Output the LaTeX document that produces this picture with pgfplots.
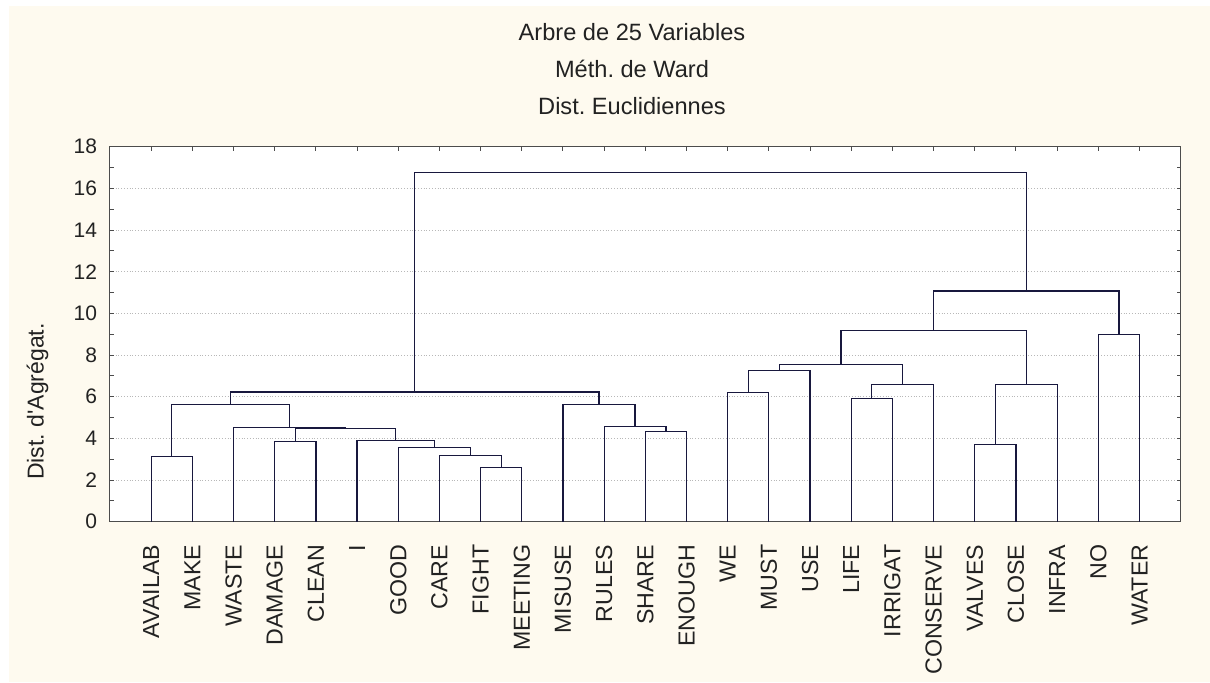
\documentclass[border=0pt]{standalone}
\usepackage{pgfplots}
\pgfplotsset{compat=1.18}
\usepackage{fontspec}
\setmainfont{Liberation Sans}
\frenchspacing
\definecolor{cream}{RGB}{254,250,239}
\definecolor{navy}{RGB}{24,24,62}
\definecolor{txt}{RGB}{34,34,34}
\begin{document}
\begin{tikzpicture}
\fill[white] (-55pt,-80.15pt) rectangle (550pt,260.85pt);
\fill[cream] (-50.5pt,-80.15pt) rectangle (550pt,257.85pt);
\begin{axis}[
  scale only axis, width=535.35pt, height=187.5pt,
  xmin=0, xmax=26, ymin=0, ymax=18,
  axis background/.style={fill=white},
  axis line style={black!70, line width=0.5pt},
  xtick={1,...,25},
  xticklabels={AVAILAB,MAKE,WASTE,DAMAGE,CLEAN,I,GOOD,CARE,FIGHT,MEETING,MISUSE,RULES,SHARE,ENOUGH,WE,MUST,USE,LIFE,IRRIGAT,CONSERVE,VALVES,CLOSE,INFRA,NO,WATER},
  xtick pos=both, xticklabel pos=lower,
  ytick={0,2,...,18}, minor y tick num=1,
  ytick pos=both, yticklabel pos=left,
  tick align=inside,
  major tick length=2pt, minor tick length=2pt,
  tick style={black!70, line width=0.5pt},
  ymajorgrids, major grid style={densely dotted, black!28, line width=0.5pt},
  xticklabel style={rotate=90, anchor=east, font=\fontsize{11.6}{13}\selectfont, text=txt},
  xticklabel shift=8pt,
  yticklabel style={font=\fontsize{10.5}{12}\selectfont, text=txt},
  yticklabel shift=3pt,
  /pgf/number format/assume math mode=true,
  link/.style={navy, line width=0.6pt, mark=none, solid},
]
% dendrogram links: (left child) -> merge height -> (right child)
\addplot[link] coordinates {(1,0) (1,3.13) (2,3.13) (2,0)};
\addplot[link] coordinates {(9,0) (9,2.62) (10,2.62) (10,0)};
\addplot[link] coordinates {(8,0) (8,3.18) (9.5,3.18) (9.5,2.62)};
\addplot[link] coordinates {(7,0) (7,3.58) (8.75,3.58) (8.75,3.18)};
\addplot[link] coordinates {(6,0) (6,3.88) (7.875,3.88) (7.875,3.58)};
\addplot[link] coordinates {(4,0) (4,3.85) (5,3.85) (5,0)};
\addplot[link] coordinates {(4.5,3.85) (4.5,4.46) (6.9375,4.46) (6.9375,3.88)};
\addplot[link] coordinates {(3,0) (3,4.54) (5.71875,4.54) (5.71875,4.46)};
\addplot[link] coordinates {(1.5,3.13) (1.5,5.63) (4.359375,5.63) (4.359375,4.54)};
\addplot[link] coordinates {(13,0) (13,4.32) (14,4.32) (14,0)};
\addplot[link] coordinates {(12,0) (12,4.56) (13.5,4.56) (13.5,4.32)};
\addplot[link] coordinates {(11,0) (11,5.63) (12.75,5.63) (12.75,4.56)};
\addplot[link] coordinates {(2.9296875,5.63) (2.9296875,6.23) (11.875,6.23) (11.875,5.63)};
\addplot[link] coordinates {(15,0) (15,6.20) (16,6.20) (16,0)};
\addplot[link] coordinates {(15.5,6.20) (15.5,7.27) (17,7.27) (17,0)};
\addplot[link] coordinates {(18,0) (18,5.90) (19,5.90) (19,0)};
\addplot[link] coordinates {(18.5,5.90) (18.5,6.57) (20,6.57) (20,0)};
\addplot[link] coordinates {(16.25,7.27) (16.25,7.53) (19.25,7.53) (19.25,6.57)};
\addplot[link] coordinates {(21,0) (21,3.72) (22,3.72) (22,0)};
\addplot[link] coordinates {(21.5,3.72) (21.5,6.60) (23,6.60) (23,0)};
\addplot[link] coordinates {(17.75,7.53) (17.75,9.19) (22.25,9.19) (22.25,6.60)};
\addplot[link] coordinates {(24,0) (24,8.98) (25,8.98) (25,0)};
\addplot[link] coordinates {(20,9.19) (20,11.07) (24.5,11.07) (24.5,8.98)};
\addplot[link] coordinates {(7.40234,6.23) (7.40234,16.75) (22.25,16.75) (22.25,11.07)};
\end{axis}
\node[anchor=base, text=txt, font=\fontsize{11.8}{13}\selectfont] at (261pt,240.5pt) {Arbre de 25 Variables};
\node[anchor=base, text=txt, font=\fontsize{11.8}{13}\selectfont] at (261pt,222.2pt) {Méth. de Ward};
\node[anchor=base, text=txt, font=\fontsize{11.8}{13}\selectfont] at (261pt,203.85pt) {Dist. Euclidiennes};
\node[rotate=90, text=txt, font=\fontsize{11.5}{13}\selectfont] at (-36.25pt,60.1pt) {Dist. d\textquotesingle Agrégat.};
\pgfresetboundingbox
\path (-55pt,-80.15pt) rectangle (550pt,260.85pt);
\end{tikzpicture}
\end{document}
